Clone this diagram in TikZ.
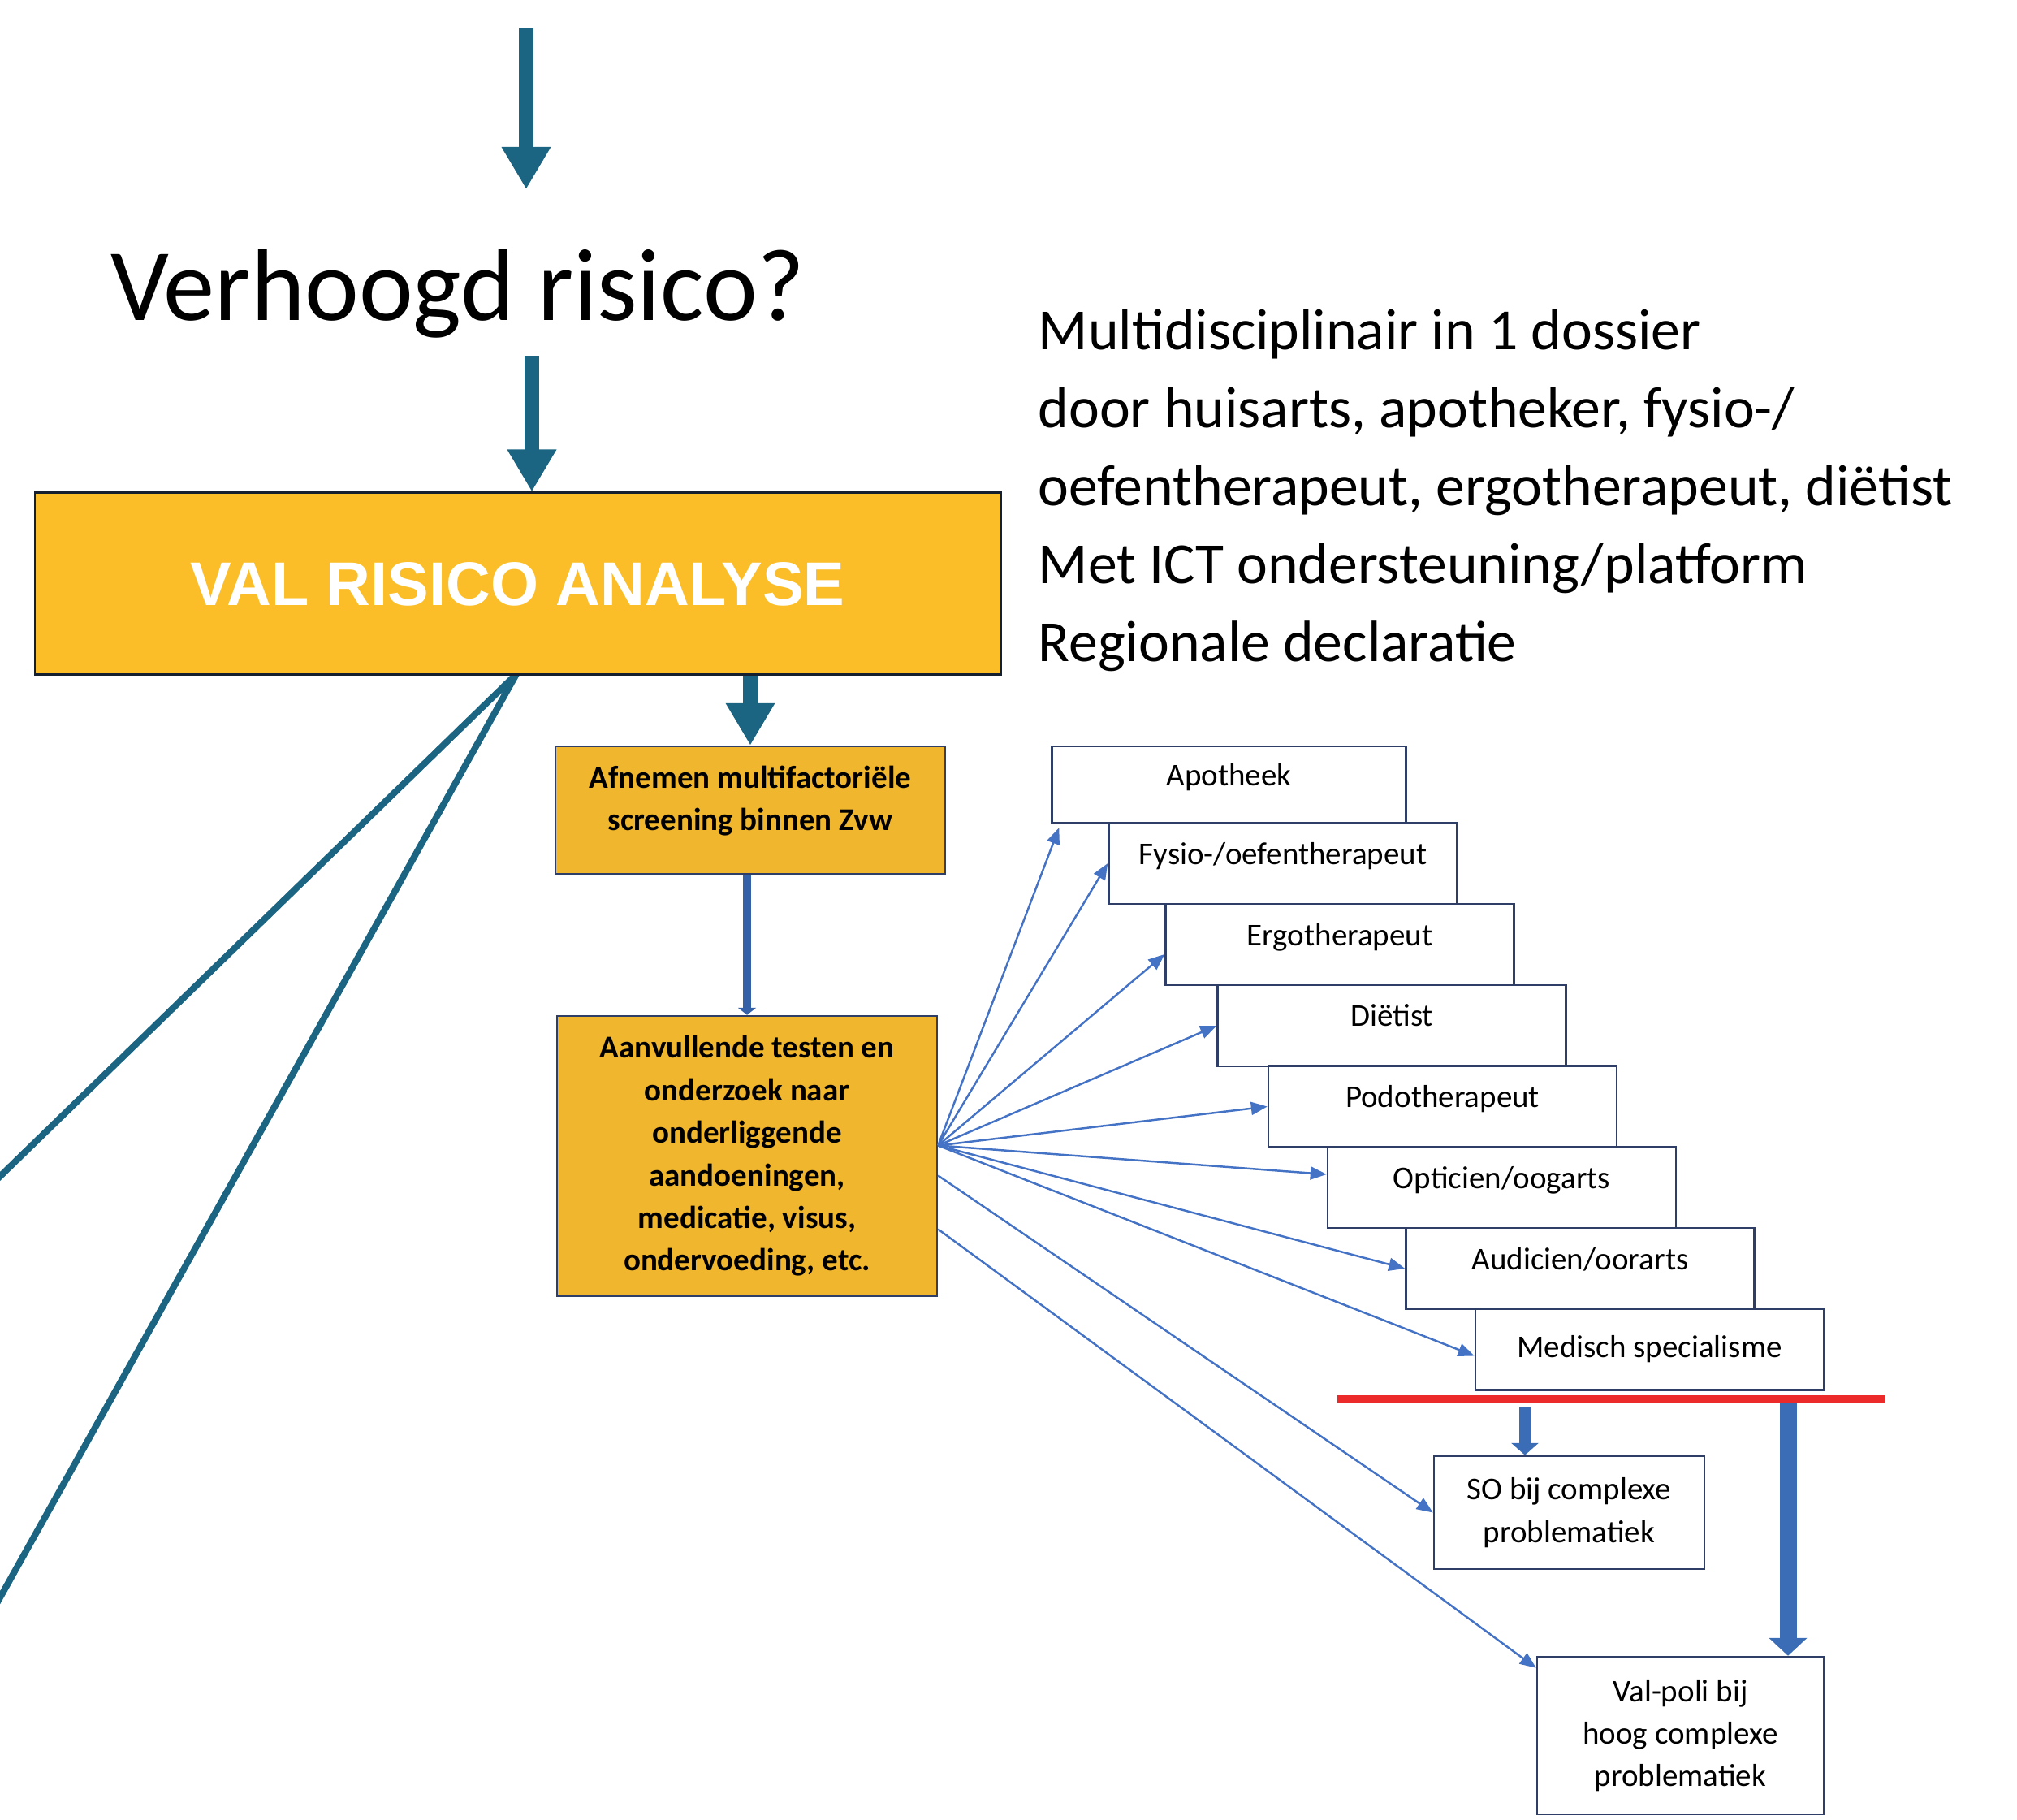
\documentclass[tikz,border=0pt]{standalone}
\usepackage{fontspec}
\setmainfont{Carlito}
\newfontfamily\headfont{Liberation Sans}
\usepackage{tikz}
\usetikzlibrary{arrows.meta}

\definecolor{tealblue}{RGB}{27,101,131}
\definecolor{valfill}{RGB}{251,190,40}
\definecolor{goldfill}{RGB}{240,182,46}
\definecolor{navyline}{RGB}{20,32,48}
\definecolor{boxline}{RGB}{47,62,102}
\definecolor{fanblue}{RGB}{68,114,196}
\definecolor{stemblue}{RGB}{52,97,168}
\definecolor{blockblue}{RGB}{58,109,181}
\definecolor{stopred}{RGB}{236,42,42}

\tikzset{
  valbox/.style={draw=navyline, fill=valfill, line width=0.85pt, inner sep=0pt,
    text=white, font=\headfont\bfseries\fontsize{21.6}{25}\selectfont},
  orangebox/.style={draw=boxline, fill=goldfill, line width=0.7pt, inner sep=0pt,
    align=center, font=\bfseries\fontsize{11.1}{14.9}\selectfont},
  whitebox/.style={draw=boxline, fill=white, line width=0.7pt, inner sep=0pt,
    align=center, minimum width=4.29cm, minimum height=1cm,
    font=\fontsize{11.1}{14.9}\selectfont},
  discbox/.style={whitebox, text depth=0.25cm},
  tealarrow/.style={draw=tealblue, line width=0.18cm, -{Triangle[width=0.57cm,length=0.52cm]}},
  stemarrow/.style={draw=stemblue, line width=0.1cm, -{Triangle[width=0.22cm,length=0.09cm]}},
  fanarrow/.style={draw=fanblue, line width=0.7pt, -{Triangle[width=0.16cm,length=0.2cm]}},
  blockarrow/.style={draw=blockblue}
}

\begin{document}
\begin{tikzpicture}[x=1cm, y=-1cm]
        \useasboundingbox (0,0) rectangle (24.84,22.41);
        % Lines to the left
        \coordinate (apex) at (6.36,8.30);
        \coordinate (leftA) at (-0.2,14.68);
        \coordinate (leftB) at (-0.2,20.03);
        \draw [tealblue, line width=0.08cm, line join=miter] (leftA) -- (apex) -- (leftB);
        % Main column
        \coordinate (intop) at (6.48,0.34);
        \coordinate (intip) at (6.48,2.33);
        \draw [tealarrow] (intop) -- (intip);
        \node [anchor=base, inner sep=0pt, font=\fontsize{36}{42}\selectfont] (risk) at (5.64,3.95) {Verhoogd risico?};
        \coordinate (riskout) at (6.55,4.38);
        \node [valbox, minimum width=11.89cm, minimum height=2.24cm] (val) at (6.375,7.19) {VAL RISICO ANALYSE};
        \draw [tealarrow] (riskout) -- (riskout |- val.north);
        \node [orangebox, text depth=0.29cm, minimum width=4.80cm, minimum height=1.57cm] (afn) at (9.24,9.975) {Afnemen multifactoriële\\screening binnen Zvw};
        \draw [tealarrow] (afn.north |- val.south) -- (afn.north);
        \node [orangebox, minimum width=4.68cm, minimum height=3.45cm] (aanv) at (9.20,14.235) {Aanvullende testen en\\onderzoek naar\\onderliggende\\aandoeningen,\\medicatie, visus,\\ondervoeding, etc.};
        \draw [stemarrow] (aanv.north |- afn.south) -- (aanv.north);
        % Text block
        \node [anchor=west, align=left, inner sep=0pt, font=\fontsize{20.4}{27.3}\selectfont] (multi) at (12.78,6.04) {Multidisciplinair in 1 dossier\\door huisarts, apotheker, fysio-/\\oefentherapeut, ergotherapeut, diëtist\\Met ICT ondersteuning/platform\\Regionale declaratie};
        % Disciplines
        \node [discbox, minimum width=4.36cm, minimum height=0.94cm] (apo) at (15.135,9.66) {Apotheek};
        \node [discbox] (fysio) at (15.80,10.63) {Fysio-/oefentherapeut};
        \node [discbox] (ergo) at (16.50,11.63) {Ergotherapeut};
        \node [discbox] (dietist) at (17.14,12.63) {Diëtist};
        \node [discbox] (podo) at (17.765,13.625) {Podotherapeut};
        \node [discbox] (opt) at (18.495,14.62) {Opticien/oogarts};
        \node [discbox] (audi) at (19.46,15.62) {Audicien/oorarts};
        \node [whitebox] (med) at (20.315,16.615) {Medisch specialisme};
        % Referrals
        \coordinate (fan) at ([yshift=0.13cm]aanv.east);
        \draw [fanarrow] (fan) -- ([xshift=0.1cm,yshift=-0.05cm]apo.south west);
        \foreach \n/\s in {fysio/0, ergo/-0.12, dietist/0, podo/0, opt/0.16, audi/0, med/-0.08}
            \draw [fanarrow] (fan) -- ([yshift=\s cm]\n.west);
        % Below the red line
        \draw [stopred, line width=0.1cm] (16.47,17.23) -- (23.21,17.23);
        \node [whitebox, minimum width=3.33cm, minimum height=1.39cm] (so) at (19.325,18.625) {SO bij complexe\\problematiek};
        \node [whitebox, minimum width=3.53cm, minimum height=1.94cm] (vp) at (20.695,21.37) {Val-poli bij\\hoog complexe\\problematiek};
        \draw [fanarrow] ([yshift=-0.24cm]aanv.east) -- (so.west);
        \draw [fanarrow] ([yshift=-0.9cm]aanv.east) -- ([yshift=-0.15cm]vp.north west);
        \coordinate (soin) at (18.78,17.32);
        \coordinate (vpin) at (22.02,17.28);
        \draw [blockarrow, line width=0.14cm, -{Triangle[width=0.33cm,length=0.15cm]}] (soin) -- (soin |- so.north);
        \draw [blockarrow, line width=0.21cm, -{Triangle[width=0.46cm,length=0.22cm]}] (vpin) -- (vpin |- vp.north);
    \end{tikzpicture}
\end{document}
